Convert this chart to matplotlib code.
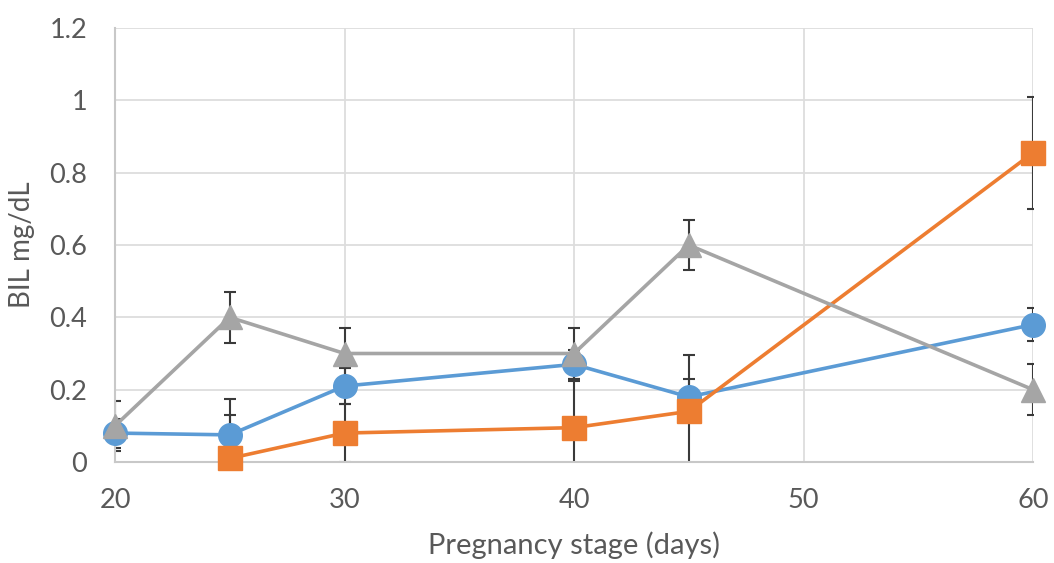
import matplotlib
matplotlib.use("Agg")
import matplotlib.pyplot as plt

# Data
blue_x = [20, 25, 30, 40, 45, 60]
blue_y = [0.08, 0.075, 0.21, 0.27, 0.18, 0.38]
blue_err = [0.04, 0.10, 0.05, 0.04, 0.05, 0.045]

orange_x = [25, 30, 40, 45, 60]
orange_y = [0.01, 0.08, 0.095, 0.14, 0.855]
orange_err = [0.12, 0.08, 0.13, 0.155, 0.155]

gray_x = [20, 25, 30, 40, 45, 60]
gray_y = [0.10, 0.40, 0.30, 0.30, 0.60, 0.20]
gray_err = [0.07, 0.07, 0.07, 0.07, 0.07, 0.07]

x_ticks = [20, 30, 40, 50, 60]
y_ticks = [0, 0.2, 0.4, 0.6, 0.8, 1.0, 1.2]
y_tick_labels = ["0", "0.2", "0.4", "0.6", "0.8", "1", "1.2"]

plt.rcParams['font.family'] = ['Lato', 'DejaVu Sans']
text_color = "#595959"

fig = plt.figure(figsize=(10.54, 5.63), dpi=100)
ax = fig.add_axes([115/1054, 1 - 462/563, (1033 - 115)/1054, (462 - 28)/563])

err_kw = dict(ecolor="#3A3A3A", elinewidth=1.5, capsize=4.5, capthick=1.5, zorder=2)

for x, y, e in [(blue_x, blue_y, blue_err), (orange_x, orange_y, orange_err),
                (gray_x, gray_y, gray_err)]:
    ax.errorbar(x, y, yerr=e, fmt='none', **err_kw)

ax.plot(blue_x, blue_y, color="#5B9BD5", lw=2.6, marker='o', markersize=17,
        zorder=3, clip_on=False)
ax.plot(orange_x, orange_y, color="#ED7D31", lw=2.6, marker='s', markersize=17,
        zorder=4, clip_on=False)
ax.plot(gray_x, gray_y, color="#A5A5A5", lw=2.6, marker='^', markersize=17,
        zorder=5, clip_on=False)

ax.set_xlim(20, 60)
ax.set_ylim(0, 1.2)
ax.set_xticks(x_ticks)
ax.set_yticks(y_ticks)
ax.set_yticklabels(y_tick_labels)

ax.grid(True, color="#DDDDDD", lw=1.3, zorder=0)
ax.set_axisbelow(True)
for s in ['top', 'right']:
    ax.spines[s].set_visible(False)
for s in ['left', 'bottom']:
    ax.spines[s].set_color("#C8C8C8")
    ax.spines[s].set_linewidth(1.5)

ax.tick_params(axis='both', length=0, labelsize=19.5, colors=text_color)
ax.tick_params(axis='y', pad=20)
ax.tick_params(axis='x', pad=19)
ax.set_xlabel("Pregnancy stage (days)", fontsize=21, color=text_color, labelpad=13)
ax.set_ylabel("BIL mg/dL", fontsize=20, color=text_color, labelpad=10)

for lab in ax.get_xticklabels() + ax.get_yticklabels():
    lab.set_color(text_color)

fig.savefig("out.png", dpi=100)
